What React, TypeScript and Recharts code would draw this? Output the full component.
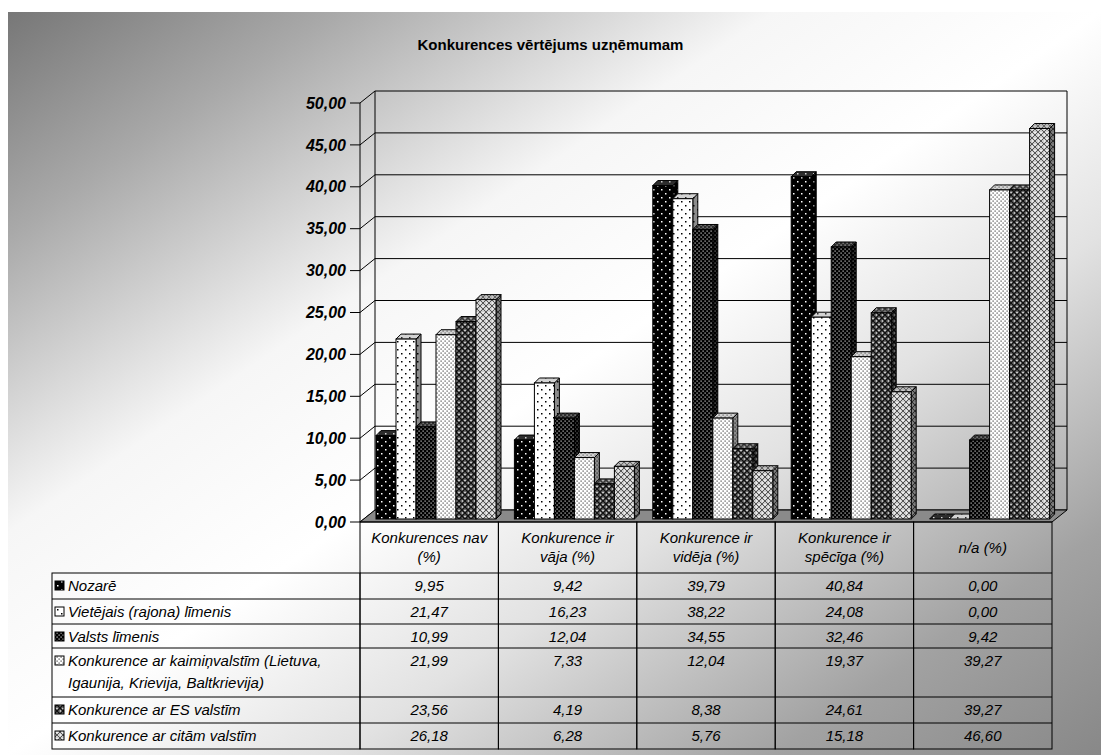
import React from 'react';
import { BarChart, Bar, XAxis, YAxis, CartesianGrid, ReferenceArea } from 'recharts';

const categories = [
  'Konkurences nav (%)',
  'Konkurence ir vāja (%)',
  'Konkurence ir vidēja (%)',
  'Konkurence ir spēcīga (%)',
  'n/a (%)',
];
const headerLines = [
  ['Konkurences nav', '(%)'],
  ['Konkurence ir', 'vāja (%)'],
  ['Konkurence ir', 'vidēja (%)'],
  ['Konkurence ir', 'spēcīga (%)'],
  ['n/a (%)'],
];

const seriesLabels = [
  ['Nozarē'],
  ['Vietējais (rajona) līmenis'],
  ['Valsts līmenis'],
  ['Konkurence ar kaimiņvalstīm (Lietuva,', 'Igaunija, Krievija, Baltkrievija)'],
  ['Konkurence ar ES valstīm'],
  ['Konkurence ar citām valstīm'],
];

const nozare = [9.95, 9.42, 39.79, 40.84, 0.0];
const vietejais = [21.47, 16.23, 38.22, 24.08, 0.0];
const valsts = [10.99, 12.04, 34.55, 32.46, 9.42];
const kaimini = [21.99, 7.33, 12.04, 19.37, 39.27];
const esValstis = [23.56, 4.19, 8.38, 24.61, 39.27];
const citas = [26.18, 6.28, 5.76, 15.18, 46.6];

const series = [nozare, vietejais, valsts, kaimini, esValstis, citas];
const yTicks = [0, 5, 10, 15, 20, 25, 30, 35, 40, 45, 50];

const data = categories.map((name, i) => {
  const row: Record<string, string | number> = { name };
  series.forEach((s, k) => (row[`s${k}`] = s[i]));
  return row;
});

const W = 1101;
const H = 755;
const PLOT_LEFT = 360;
const PLOT_RIGHT = 1052;
const PLOT_TOP = 103;
const PLOT_BOTTOM = 522;
const YAXIS_W = 70;
const XAXIS_H = 30;
const COL_W = (PLOT_RIGHT - PLOT_LEFT) / categories.length;
const DX = 15; // wall depth
const DY = 12;
const FONT = '"Liberation Sans", Arial, sans-serif';

// table rows: header, then one row per series (4th one wraps)
const ROW_Y = [522, 573, 599, 624, 648, 697, 723, 749];
const TABLE_LEFT = 52;

const fmt = (v: number) => v.toFixed(2).replace('.', ',');

const Patterns = () => (
  <defs>
    <pattern id="pat0" width="8" height="8" patternUnits="userSpaceOnUse">
      <rect width="8" height="8" fill="#000" />
      <rect x="1" y="1" width="1.5" height="1.5" fill="#fff" />
      <rect x="5" y="5" width="1.5" height="1.5" fill="#fff" />
    </pattern>
    <pattern id="pat1" width="8" height="8" patternUnits="userSpaceOnUse">
      <rect width="8" height="8" fill="#fff" />
      <rect x="1" y="1" width="1.5" height="1.5" fill="#000" />
      <rect x="5" y="5" width="1.5" height="1.5" fill="#000" />
    </pattern>
    <pattern id="pat2" width="4" height="4" patternUnits="userSpaceOnUse">
      <rect width="4" height="4" fill="#000" />
      <rect x="0.5" y="0.5" width="1.2" height="1.2" fill="#d0d0d0" />
      <rect x="2.5" y="2.5" width="1.2" height="1.2" fill="#d0d0d0" />
    </pattern>
    <pattern id="pat3" width="4" height="4" patternUnits="userSpaceOnUse">
      <rect width="4" height="4" fill="#fff" />
      <rect x="0.5" y="0.5" width="1.2" height="1.2" fill="#444" />
      <rect x="2.5" y="2.5" width="1.2" height="1.2" fill="#444" />
    </pattern>
    <pattern id="pat4" width="6" height="6" patternUnits="userSpaceOnUse">
      <rect width="6" height="6" fill="#707070" />
      <path d="M0,0 L6,6 M6,0 L0,6" stroke="#111" strokeWidth="1.3" />
      <rect x="2.3" y="0" width="1.4" height="1.2" fill="#eee" />
      <rect x="0" y="2.4" width="1.1" height="1.2" fill="#eee" />
    </pattern>
    <pattern id="pat5" width="6" height="6" patternUnits="userSpaceOnUse">
      <rect width="6" height="6" fill="#cfcfcf" />
      <path d="M0,0 L6,6 M6,0 L0,6" stroke="#555" strokeWidth="1" />
      <rect x="2.3" y="0" width="1.4" height="1.2" fill="#fff" />
      <rect x="0" y="2.4" width="1.1" height="1.2" fill="#fff" />
    </pattern>
  </defs>
);

// 3D column: front face with a top and right side face
const Box3D = (props: any) => {
  const { x, y, width, height, fill } = props;
  const fx = x + 6;
  const fy = y - 3;
  const d = 5;
  const w = width;
  const h = Math.max(height, 0);
  const top = `${fx},${fy} ${fx + d},${fy - d} ${fx + w + d},${fy - d} ${fx + w},${fy}`;
  const side = `${fx + w},${fy} ${fx + w + d},${fy - d} ${fx + w + d},${fy + h - d} ${fx + w},${fy + h}`;
  return (
    <g>
      <polygon points={side} fill={fill} />
      <polygon points={side} fill="#000" fillOpacity={0.45} stroke="#000" strokeWidth={1} />
      <polygon points={top} fill={fill} />
      <polygon points={top} fill="#808080" fillOpacity={0.35} stroke="#000" strokeWidth={1} />
      {h > 0 && <rect x={fx} y={fy} width={w} height={h} fill={fill} stroke="#000" strokeWidth={1} />}
    </g>
  );
};

// back wall gridline plus the diagonal across the side wall
const GridLine = (p: any) => {
  const { x1, x2, y1, index } = p;
  return (
    <g key={`g-${index}`}>
      <line x1={x1} y1={y1} x2={x1 + DX} y2={y1 - DY} stroke="#000" strokeWidth={1} />
      <line x1={x1 + DX} y1={y1 - DY} x2={x2 + DX} y2={y1 - DY} stroke="#000" strokeWidth={1} />
    </g>
  );
};

const Walls = (p: any) => {
  const { x, y, width, height } = p;
  const b = y + height;
  return (
    <g>
      <polygon
        points={`${x},${b} ${x + width},${b} ${x + width + DX},${b - DY} ${x + DX},${b - DY}`}
        fill="#8a8a8a"
        stroke="#000"
        strokeWidth={1}
      />
      <line x1={x + DX} y1={y - DY} x2={x + DX} y2={b - DY} stroke="#000" />
      <line x1={x + width + DX} y1={y - DY} x2={x + width + DX} y2={b - DY} stroke="#000" />
    </g>
  );
};

const textStyle = { fontFamily: FONT, fontStyle: 'italic', fontSize: 15, fill: '#000' } as const;

// one data-table column per category, plus the series labels on the first one
const TableColumn = (props: any) => {
  const { x, payload } = props;
  const i = payload.index ?? props.index ?? 0;
  const left = x - COL_W / 2;
  const lines = headerLines[i];
  const hMid = (ROW_Y[0] + ROW_Y[1]) / 2;
  return (
    <g>
      <rect x={left} y={ROW_Y[0]} width={COL_W} height={ROW_Y[7] - ROW_Y[0]} fill="none" stroke="#000" />
      {ROW_Y.slice(1, 7).map((ry) => (
        <line key={ry} x1={left} y1={ry} x2={left + COL_W} y2={ry} stroke="#000" />
      ))}
      {lines.map((t, k) => (
        <text
          key={t}
          x={x}
          y={hMid + 5 + (k - (lines.length - 1) / 2) * 19}
          textAnchor="middle"
          style={textStyle}
        >
          {t}
        </text>
      ))}
      {series.map((s, k) => (
        <text key={k} x={x} y={ROW_Y[k + 1] + 18} textAnchor="middle" style={textStyle}>
          {fmt(s[i])}
        </text>
      ))}
      {i === 0 && (
        <g>
          <rect
            x={TABLE_LEFT}
            y={ROW_Y[1]}
            width={left - TABLE_LEFT}
            height={ROW_Y[7] - ROW_Y[1]}
            fill="none"
            stroke="#000"
          />
          {ROW_Y.slice(2, 7).map((ry) => (
            <line key={ry} x1={TABLE_LEFT} y1={ry} x2={left} y2={ry} stroke="#000" />
          ))}
          {seriesLabels.map((ls, k) => (
            <g key={k}>
              <rect
                x={TABLE_LEFT + 3}
                y={ROW_Y[k + 1] + 8}
                width={9}
                height={9}
                fill={`url(#pat${k})`}
                stroke="#000"
              />
              {ls.map((t, j) => (
                <text key={t} x={TABLE_LEFT + 16} y={ROW_Y[k + 1] + 18 + j * 22} style={textStyle}>
                  {t}
                </text>
              ))}
            </g>
          ))}
        </g>
      )}
    </g>
  );
};

export default function App() {
  return (
    <div style={{ position: 'absolute', left: 0, top: 0, width: W, height: H, overflow: 'hidden' }}>
      <div
        style={{
          position: 'absolute',
          left: 8,
          top: 12,
          width: W - 8,
          height: H - 12,
          background:
            'linear-gradient(to bottom right, #777 0%, #a9a9a9 15%, #f6f6f6 35%, #fff 50%, #e2e2e2 65%, #a2a2a2 85%, #888 100%)',
        }}
      />
      <div
        style={{
          position: 'absolute',
          left: 0,
          top: 36,
          width: W,
          textAlign: 'center',
          fontFamily: FONT,
          fontWeight: 'bold',
          fontSize: 15,
          color: '#000',
        }}
      >
        Konkurences vērtējums uzņēmumam
      </div>
      <div style={{ position: 'absolute', left: 0, top: 0 }}>
        <BarChart
          width={W}
          height={H}
          data={data}
          barGap={0}
          barCategoryGap={10}
          margin={{
            top: PLOT_TOP,
            right: W - PLOT_RIGHT,
            left: PLOT_LEFT - YAXIS_W,
            bottom: H - PLOT_BOTTOM - XAXIS_H,
          }}
        >
          <Patterns />
          <CartesianGrid horizontal={GridLine} vertical={false} />
          <ReferenceArea y1={0} y2={50} ifOverflow="visible" shape={Walls} />
          <YAxis
            width={YAXIS_W}
            domain={[0, 50]}
            ticks={yTicks}
            tickFormatter={fmt}
            tickSize={10}
            tickMargin={4}
            axisLine={{ stroke: '#000' }}
            tickLine={{ stroke: '#000' }}
            tick={{ fill: '#000', fontSize: 16, fontWeight: 'bold', fontStyle: 'italic', fontFamily: FONT }}
          />
          <XAxis
            dataKey="name"
            height={XAXIS_H}
            axisLine={false}
            tickLine={false}
            interval={0}
            tick={TableColumn}
          />
          {series.map((_, k) => (
            <Bar
              key={k}
              dataKey={`s${k}`}
              fill={`url(#pat${k})`}
              shape={Box3D}
              isAnimationActive={false}
            />
          ))}
        </BarChart>
      </div>
    </div>
  );
}
